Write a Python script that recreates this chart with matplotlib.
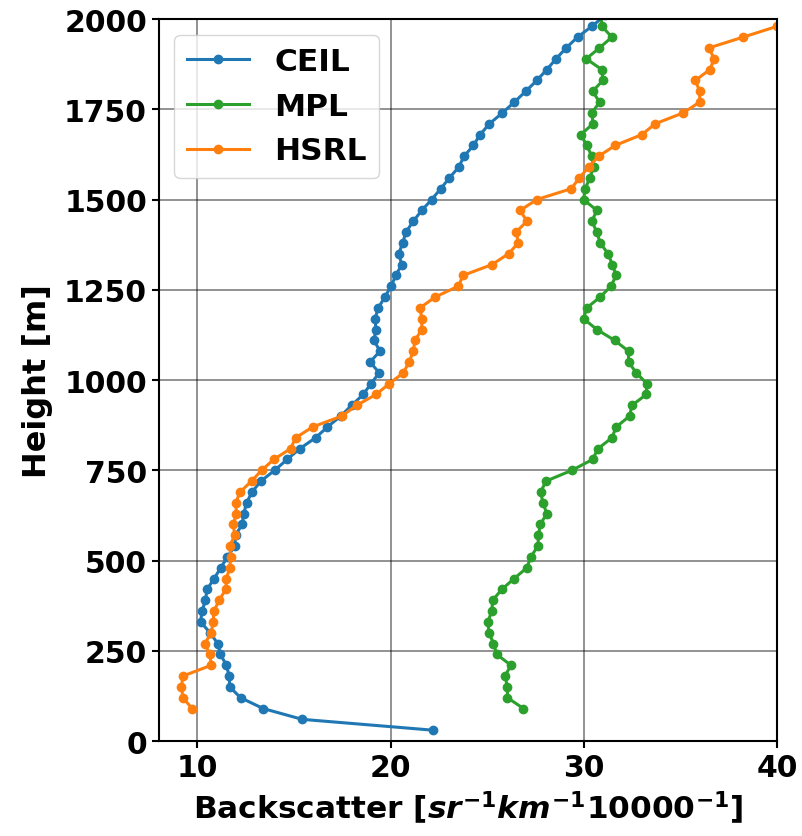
import numpy as np
import matplotlib
matplotlib.use('Agg')
import matplotlib.pyplot as plt

plt.rcParams['font.weight'] = 'bold'
plt.rcParams['axes.labelweight'] = 'bold'
plt.rcParams['mathtext.fontset'] = 'custom'
plt.rcParams['mathtext.rm'] = 'DejaVu Sans:bold'
plt.rcParams['mathtext.it'] = 'DejaVu Sans:italic:bold'

# range gates [m]
heights = [30, 60, 90, 120, 150, 180, 210, 240, 270, 300,
           330, 360, 390, 420, 450, 480, 510, 540, 570, 600,
           630, 660, 690, 720, 750, 780, 810, 840, 870, 900,
           930, 960, 990, 1020, 1050, 1080, 1110, 1140, 1170, 1200,
           1230, 1260, 1290, 1320, 1350, 1380, 1410, 1440, 1470, 1500,
           1530, 1560, 1590, 1620, 1650, 1680, 1710, 1740, 1770, 1800,
           1830, 1860, 1890, 1920, 1950, 1980, 2010]

ceil = [22.18, 15.42, 13.40, 12.23, 11.67, 11.64, 11.50, 11.19, 11.05, 10.65,
        10.16, 10.24, 10.41, 10.50, 10.86, 11.21, 11.55, 11.93, 11.97, 12.31,
        12.40, 12.54, 12.83, 13.28, 14.00, 14.64, 15.30, 16.11, 16.73, 17.41,
        17.98, 18.58, 18.98, 19.41, 18.93, 19.45, 19.13, 19.24, 19.19, 19.36,
        19.70, 20.02, 20.27, 20.57, 20.42, 20.62, 20.79, 21.17, 21.61, 22.12,
        22.59, 23.04, 23.52, 23.80, 24.28, 24.63, 25.11, 25.78, 26.40, 26.99,
        27.56, 28.08, 28.56, 29.08, 29.67, 30.41, 31.10]

mpl_h = heights[2:]
mpl = [26.87, 26.04, 26.04, 25.92, 26.22, 25.49, 25.32, 25.09,
       25.03, 25.23, 25.28, 25.75, 26.39, 27.05, 27.25, 27.62, 27.65, 27.74,
       28.08, 27.88, 27.76, 28.04, 29.38, 30.45, 30.73, 31.45, 31.67, 32.36,
       32.49, 33.23, 33.26, 32.71, 32.31, 32.31, 31.59, 30.67, 29.98, 30.15,
       30.84, 31.40, 31.67, 31.47, 31.25, 30.84, 30.67, 30.41, 30.67, 29.98,
       30.07, 30.30, 30.50, 30.41, 30.15, 29.84, 30.47, 30.41, 30.81, 30.45,
       30.98, 30.93, 30.12, 30.80, 31.45, 30.93, 30.90]

hsrl_h = heights[2:-1]
hsrl = [9.72, 9.25, 9.17, 9.25, 10.72, 10.64, 10.38, 10.72,
        10.81, 10.86, 11.12, 11.47, 11.50, 11.67, 11.73, 11.67, 11.93, 11.85,
        12.02, 11.98, 12.21, 12.80, 13.32, 13.95, 14.82, 15.08, 15.96, 17.46,
        18.24, 19.24, 19.93, 20.65, 20.96, 21.17, 21.26, 21.61, 21.61, 21.52,
        22.30, 23.50, 23.75, 25.25, 26.10, 26.61, 26.49, 27.05, 26.70, 27.56,
        29.34, 29.77, 30.24, 30.76, 31.62, 33.00, 33.69, 35.13, 35.99, 35.99,
        35.77, 36.51, 36.75, 36.46, 38.24, 40.00]

fig = plt.figure(figsize=(8.02, 8.37), dpi=100)
ax = fig.add_axes([0.198, 0.1135, 0.771, 0.8625])

ax.plot(ceil, heights, marker='o', markersize=6, linewidth=2.2, color='tab:blue', label='CEIL')
ax.plot(mpl, mpl_h, marker='o', markersize=6, linewidth=2.2, color='tab:green', label='MPL')
ax.plot(hsrl, hsrl_h, marker='o', markersize=6, linewidth=2.2, color='tab:orange', label='HSRL')

ax.set_xlim(8, 40)
ax.set_ylim(0, 2000)
ax.set_xticks([10, 20, 30, 40])
ax.set_yticks([0, 250, 500, 750, 1000, 1250, 1500, 1750, 2000])
ax.grid(True, color='k', alpha=0.5, linewidth=1.2)
ax.tick_params(labelsize=21.5, width=1.5, length=5)
for s in ax.spines.values():
    s.set_linewidth(1.5)

ax.set_xlabel(r'Backscatter [$sr^{-1}km^{-1}10000^{-1}$]', fontsize=22.5, labelpad=5)
ax.set_ylabel('Height [m]', fontsize=23, labelpad=8)
ax.legend(loc='upper left', fontsize=22.5)

fig.savefig('out.png', dpi=100)
